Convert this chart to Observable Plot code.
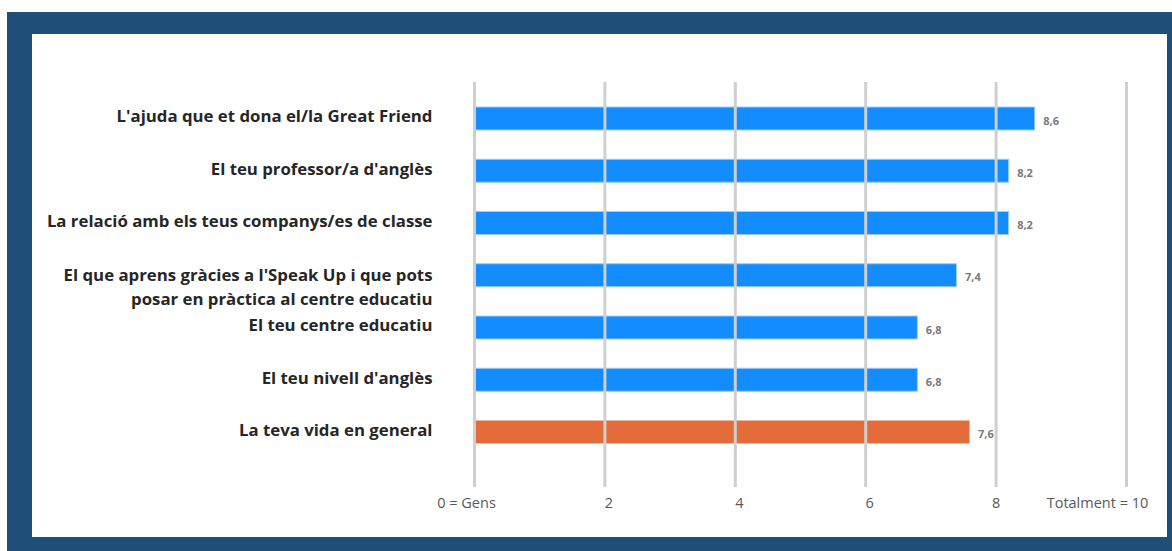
<!DOCTYPE html>
<html>
<head>
<meta charset="utf-8">
<script src="https://cdn.jsdelivr.net/npm/d3@7"></script>
<script src="https://cdn.jsdelivr.net/npm/@observablehq/plot@0.6"></script>
<style>
  html, body { margin: 0; padding: 0; background: #ffffff; }
  #frame { position: absolute; left: 7px; top: 12px; width: 1165px; height: 539px; background: #1F4E79; }
  #panel { position: absolute; left: 32px; top: 34px; width: 1135px; height: 503px; background: #ffffff; }
  #panel svg { display: block; }
</style>
</head>
<body>
<div id="frame"></div>
<div id="panel"></div>
<script>
const categories = [
  "L'ajuda que et dona el/la Great Friend",
  "El teu professor/a d'anglès",
  "La relació amb els teus companys/es de classe",
  "El que aprens gràcies a l'Speak Up i que pots\nposar en pràctica al centre educatiu",
  "El teu centre educatiu",
  "El teu nivell d'anglès",
  "La teva vida en general"
];
const values = [8.6, 8.2, 8.2, 7.4, 6.8, 6.8, 7.6];
const groups = ["aspecte", "aspecte", "aspecte", "aspecte", "aspecte", "aspecte", "general"];
const tickValues = [0, 2, 4, 6, 8, 10];
const tickLabels = ["0 = Gens", "2", "4", "6", "8", "Totalment = 10"];

const data = categories.map((c, i) => ({category: c, value: values[i], group: groups[i]}));
const ticks = tickValues.map((v, i) => ({value: v, label: tickLabels[i]}));

const fillColor = {aspecte: "#128CFF", general: "#E46C3A"};
const edgeColor = {aspecte: "#9ccbff", general: "#f2b79c"};
const tickDx = (d, i) => i === 0 ? -8 : (i === ticks.length - 1 ? -29 : (d.value === 8 ? 0 : 4));

const chart = Plot.plot({
  width: 1135,
  height: 503,
  marginLeft: 442,
  marginRight: 41,
  marginTop: 48,
  marginBottom: 50,
  style: {background: "transparent", fontFamily: "'Open Sans', 'Noto Sans', sans-serif"},
  x: {domain: [0, 10], axis: null},
  y: {domain: categories, range: [58.375, 424.125], paddingInner: 0.56, paddingOuter: 0.28, round: false, axis: null},
  marks: [
    Plot.barX(data, {
      x: "value", y: "category",
      fill: d => fillColor[d.group],
      stroke: d => edgeColor[d.group],
      strokeWidth: 1
    }),
    Plot.ruleX(ticks, {x: "value", stroke: "#cfcfcf", strokeWidth: 3}),
    Plot.text(data, {
      x: "value", y: "category",
      text: d => d.value.toFixed(1).replace(".", ","),
      textAnchor: "start", dx: 8, dy: 2,
      fontSize: 11, fontWeight: 700, fill: "#7a7a7a"
    }),
    Plot.text(data.filter(d => !d.category.includes("\n")), {
      x: 0, y: "category", text: "category",
      textAnchor: "end", dx: -42, dy: -2,
      fontSize: 16.8, fontWeight: 700, fill: "#262626"
    }),
    Plot.text(data.filter(d => d.category.includes("\n")), {
      x: 0, y: "category", text: "category",
      textAnchor: "end", dx: -42, dy: 10, lineHeight: 1.42,
      fontSize: 16.8, fontWeight: 700, fill: "#262626"
    }),
    Plot.text(ticks, {
      x: "value", text: "label", frameAnchor: "bottom", lineAnchor: "middle",
      dy: 16,
      fontSize: 14.5, fill: "#595959"
    })
  ]
});
document.getElementById("panel").appendChild(chart);

// per-label horizontal offsets for the bottom tick labels
d3.select(chart).selectAll("g[aria-label='text']").filter((d, i, n) => i === n.length - 1)
  .selectAll("text").attr("dx", (d, i) => tickDx(ticks[i], i));
</script>
</body>
</html>
